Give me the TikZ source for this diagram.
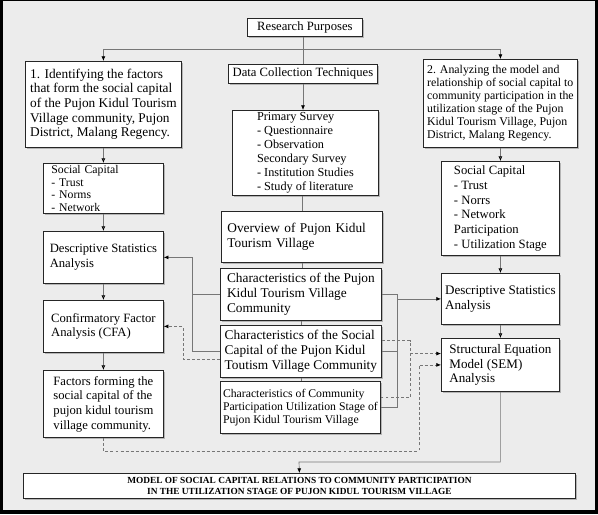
\documentclass[tikz,border=0pt]{standalone}
\usepackage{fontspec}
\setmainfont{Liberation Serif}
\usetikzlibrary{arrows.meta,shadows}

\definecolor{bggray}{RGB}{236,236,236}
\definecolor{linegray}{RGB}{118,118,118}

\begin{document}
\begin{tikzpicture}[x=0.75pt,y=-0.75pt,
    box/.style={draw=black!85,line width=0.6pt,fill=white,anchor=north west,align=left,inner sep=1.5pt,
      font=\fontsize{9.5}{11}\selectfont,
      drop shadow={shadow xshift=1.2pt,shadow yshift=-1.2pt,opacity=0.5}},
    conn/.style={linegray,line width=0.5pt},
    dconn/.style={conn,dash pattern=on 2.2pt off 1.6pt},
    >={Latex[length=3.5pt,width=3pt,color=black]}]
    \useasboundingbox (0,0) rectangle (598,514);
    \fill[black] (0,0) rectangle (598,514);
    \fill[bggray] (3,1) rectangle (595,510);

    \node[box,align=center,minimum width=86.25pt,minimum height=13.5pt] (purpose) at (247,18) {Research Purposes};
    \node[box,align=center,minimum width=111.75pt,minimum height=14.25pt] (collect) at (228,64) {Data Collection Techniques};
    \node[box,minimum width=117pt,minimum height=64.5pt,font=\fontsize{10}{11}\selectfont] (goal1) at (25,61)
        {1. Identifying the factors\\that form the social capital\\of the Pujon Kidul Tourism\\Village community, Pujon\\District, Malang Regency.};
    \node[box,minimum width=115.5pt,minimum height=66pt,font=\fontsize{8.9}{9.8}\selectfont] (goal2) at (423,59)
        {2. Analyzing the model and\\relationship of social capital to\\community participation in the\\utilization stage of the Pujon\\Kidul Tourism Village, Pujon\\District, Malang Regency.};
    \node[box,minimum width=109.5pt,minimum height=63.75pt,inner ysep=1pt,font=\fontsize{9.2}{10.4}\selectfont] (survey) at (232,110)
        {Primary Survey\\- Questionnaire\\- Observation\\Secondary Survey\\- Institution Studies\\- Study of literature};

    \node[box,text width=78pt,inner xsep=6pt,inner ysep=0.5pt,minimum height=37.5pt,font=\fontsize{8.8}{9.6}\selectfont] (capL) at (43,163)
        {Social Capital\\- Trust\\- Norms\\- Network};
    \node[box,minimum width=90pt,minimum height=39pt] (statL) at (43,231) {Descriptive Statistics\\Analysis};
    \node[box,minimum width=90pt,minimum height=39pt] (cfa) at (43,300) {Confirmatory Factor\\Analysis (CFA)};
    \node[box,minimum width=90pt,minimum height=50.25pt] (factor) at (43,370)
        {Factors forming the\\social capital of the\\pujon kidul tourism\\village community.};

    \node[box,text width=111.75pt,inner xsep=4.5pt,minimum height=38.25pt,font=\fontsize{10}{11}\selectfont] (overview) at (221,211)
        {Overview of Pujon Kidul\\Tourism Village};
    \node[box,minimum width=120.75pt,minimum height=39pt,font=\fontsize{10}{11.2}\selectfont] (char1) at (220,268)
        {Characteristics of the Pujon\\Kidul Tourism Village\\Community};
    \node[box,minimum width=120.75pt,minimum height=39pt,font=\fontsize{10}{11.2}\selectfont] (char2) at (220,325)
        {Characteristics of the Social\\Capital of the Pujon Kidul\\Toutism Village Community};
    \node[box,minimum width=120pt,minimum height=39pt,font=\fontsize{8.8}{9.8}\selectfont] (char3) at (220,381)
        {Characteristics of Community\\Participation Utilization Stage of\\Pujon Kidul Tourism Village};

    \node[box,minimum width=88.5pt,minimum height=70.5pt] (capR) at (441,161)
        {Social Capital\\- Trust\\- Norrs\\- Network\\Participation\\- Utilization Stage};
    \node[box,minimum width=88.5pt,minimum height=38.25pt,font=\fontsize{9.8}{10.8}\selectfont] (statR) at (441,273)
        {Descriptive Statistics\\Analysis};
    \node[box,minimum width=88.5pt,minimum height=39.75pt,font=\fontsize{9.8}{10.8}\selectfont] (sem) at (441,338)
        {Structural Equation\\Model (SEM)\\Analysis};

    \node[box,align=center,minimum width=414pt,minimum height=18.75pt,font=\fontsize{7}{8.5}\selectfont\bfseries] (model) at (23,473)
        {MODEL OF SOCIAL CAPITAL RELATIONS TO COMMUNITY PARTICIPATION\\IN THE UTILIZATION STAGE OF PUJON KIDUL TOURISM VILLAGE};

    \coordinate (split) at (303,49);
    \coordinate (busL) at (192,0);
    \coordinate (busLd) at (183,0);
    \coordinate (busR) at (397,0);
    \coordinate (busRd) at (410,0);
    \coordinate (loop) at (419,451);
    \coordinate (drop) at (299,462);

    \draw[conn] (purpose.south -| split) -- (collect.north -| split);
    \draw[conn,->] (split) -| (goal1.north);
    \draw[conn,->] (split) -| (goal2.north);
    \draw[conn,->] (collect.south -| split) -- (survey.north -| split);
    \draw[conn] (survey.south -| overview.north) -- (overview.north);
    \draw[conn] (overview.south) -- (char1.north -| overview.south);
    \draw[conn] (char1.south) -- (char2.north -| char1.south);
    \draw[conn] (char2.south) -- (char3.north -| char2.south);
    \path[conn,->]
    (goal1) edge (capL)
    (capL) edge (statL)
    (statL) edge (cfa)
    (cfa) edge (factor)
    (goal2) edge (capR)
    (capR) edge (statR)
    (statR) edge (sem);

    \draw[conn,->] (char1.west) -- (char1.west -| busL) |- (statL.east);
    \draw[conn] (char2.west) -| (char1.west -| busL);
    \draw[dconn,->] ([yshift=-6pt]char2.west) -| (cfa.east -| busLd) -- (cfa.east);

    \draw[conn] (char1.east) -| (char3.east -| busR) -- (char3.east);
    \draw[conn] (char2.east) -- (char2.east -| busR);
    \draw[conn,->] (statR.west -| busR) -- (statR.west);
    \draw[dconn] ([yshift=8pt]char2.east) -| ([yshift=7.5pt]char3.east -| busRd) -- ([yshift=7.5pt]char3.east);
    \draw[dconn,->] ([yshift=8.5pt]sem.west -| busRd) -- ([yshift=8.5pt]sem.west);

    \draw[dconn,->] (factor.south) |- (loop) |- (sem.west);
    \draw[conn,->] (sem.south) |- (drop) -- (model.north);
\end{tikzpicture}
\end{document}
